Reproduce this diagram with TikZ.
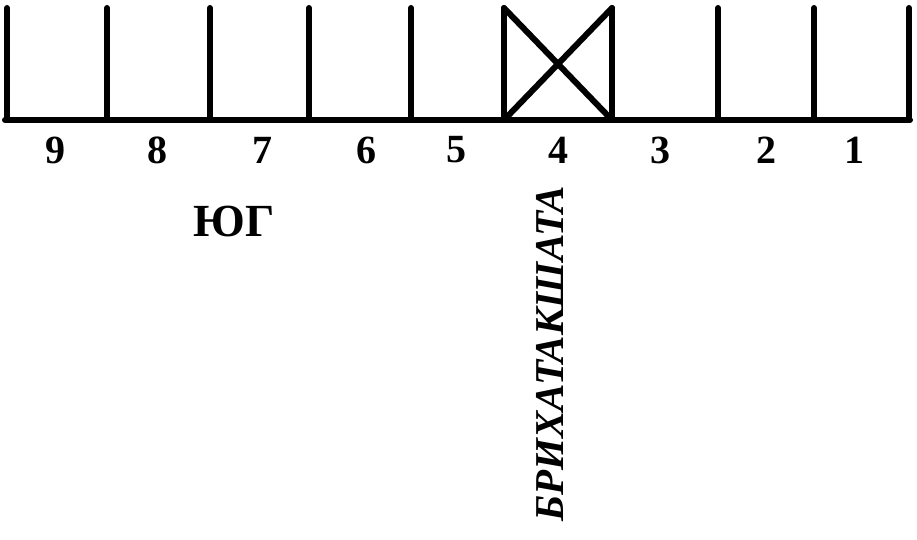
\documentclass[tikz,border=0pt]{standalone}
\usepackage{fontspec}
\setmainfont{Liberation Serif}
\begin{document}
\begin{tikzpicture}[x=1pt,y=-1pt,
  wall/.style={line width=6pt,line cap=round},
  num/.style={font=\fontsize{40}{42}\selectfont\bfseries,inner sep=0pt},
  lbl/.style={font=\fontsize{46}{48}\selectfont\bfseries,inner sep=0pt}]
\useasboundingbox (0,0) rectangle (917,540);
% baseline and posts
\coordinate (L) at (5,120);
\coordinate (R) at (910,120);
\draw[wall] (L) -- (R);
\foreach \i/\x in {a/7,b/107,c/210,d/309,e/411,f/504,g/612,h/718,k/814,m/909}{
  \coordinate (t\i) at (\x,8);
  \coordinate (b\i) at (\x,120);
  \draw[wall] (t\i) -- (b\i);
}
\draw[wall] (tf) -- (bg);
\draw[wall] (tg) -- (bf);
% numbers
\foreach \n/\x in {9/55,8/157,7/262,6/366,5/456,4/558,3/660,2/766,1/854}{
  \node[num] (n\n) at (\x,150) {\n};
}
\node[lbl] (yug) at (234,221) {ЮГ};
\node[inner sep=0pt,rotate=90,font=\fontsize{41}{43}\selectfont\bfseries\itshape] (br) at (550,354) {БРИХАТАКШАТА};
\end{tikzpicture}
\end{document}
